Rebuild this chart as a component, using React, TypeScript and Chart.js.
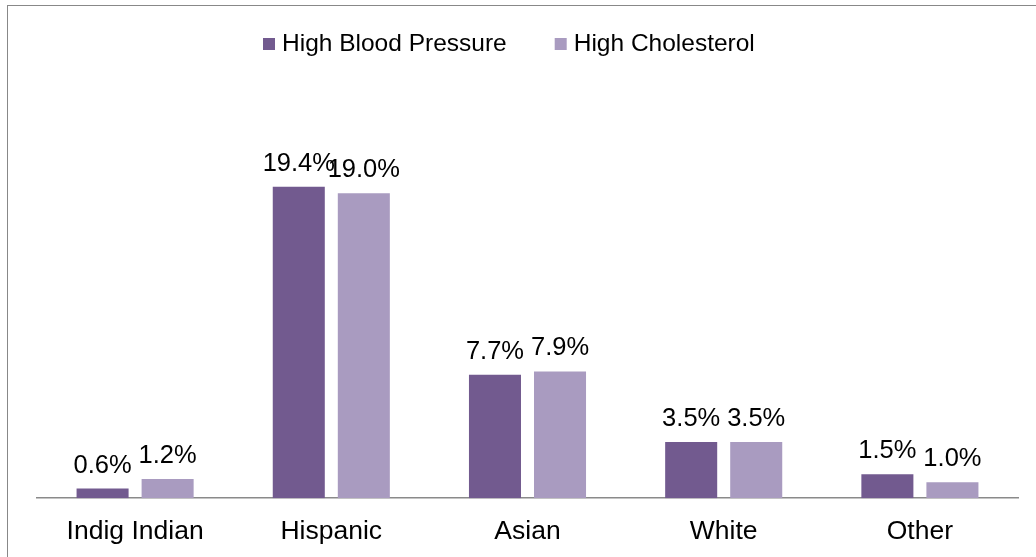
import React, { useEffect, useRef } from "react";
import { Chart, registerables } from "chart.js";

Chart.register(...registerables);

const categories = ["Indig Indian", "Hispanic", "Asian", "White", "Other"];
const seriesNames = ["High Blood Pressure", "High Cholesterol"];
const highBloodPressure = [0.6, 19.4, 7.7, 3.5, 1.5];
const highCholesterol = [1.2, 19.0, 7.9, 3.5, 1.0];
const seriesColors = ["#725A8F", "#A99BC0"];

const FONT = "'Liberation Sans', Arial, sans-serif";

const valueLabels = {
  id: "valueLabels",
  afterDatasetsDraw(chart: any) {
    const ctx = chart.ctx;
    ctx.save();
    ctx.font = `25.5px ${FONT}`;
    ctx.fillStyle = "#000";
    ctx.textAlign = "center";
    ctx.textBaseline = "alphabetic";
    chart.data.datasets.forEach((ds: any, di: number) => {
      const meta = chart.getDatasetMeta(di);
      meta.data.forEach((bar: any, i: number) => {
        const v = ds.data[i];
        ctx.fillText(`${v.toFixed(1)}%`, bar.x, bar.y - 16);
      });
    });
    ctx.restore();
  },
};

const customLegend = {
  id: "customLegend",
  afterDraw(chart: any) {
    const ctx = chart.ctx;
    ctx.save();
    ctx.font = `24.5px ${FONT}`;
    ctx.textBaseline = "alphabetic";
    ctx.textAlign = "left";
    let x = 263;
    const boxTop = 38;
    const box = 12;
    const baseline = 51;
    chart.data.datasets.forEach((ds: any) => {
      ctx.fillStyle = ds.backgroundColor;
      ctx.fillRect(x, boxTop, box, box);
      ctx.fillStyle = "#000";
      ctx.fillText(ds.label, x + box + 7, baseline);
      x += box + 7 + ctx.measureText(ds.label).width + 48;
    });
    ctx.restore();
  },
};

export default function App() {
  const ref = useRef<HTMLCanvasElement>(null);
  useEffect(() => {
    if (!ref.current) return;
    const chart = new Chart(ref.current, {
      type: "bar",
      data: {
        labels: categories,
        datasets: [
          { label: seriesNames[0], data: highBloodPressure, backgroundColor: seriesColors[0] },
          { label: seriesNames[1], data: highCholesterol, backgroundColor: seriesColors[1] },
        ],
      },
      options: {
        responsive: false,
        animation: false,
        devicePixelRatio: 1,
        layout: { padding: { left: 37, right: 18, top: 97, bottom: 12 } },
        datasets: { bar: { categoryPercentage: 0.663, barPercentage: 0.8 } },
        plugins: { legend: { display: false }, tooltip: { enabled: false } },
        scales: {
          x: {
            grid: { display: false },
            border: { display: true, color: "#8a8a8a", width: 1.5 },
            ticks: { color: "#000", font: { family: FONT, size: 26.5 }, padding: 10, maxRotation: 0 },
          },
          y: { display: false, min: 0, max: 25 },
        },
      },
      plugins: [valueLabels, customLegend],
    });
    return () => chart.destroy();
  }, []);
  return (
    <div style={{ position: "fixed", left: 0, top: 0, width: 1036, height: 557, background: "#fff", overflow: "hidden" }}>
      <div
        style={{
          position: "absolute",
          left: 7,
          top: 5,
          width: 1100,
          height: 700,
          borderLeft: "1.5px solid #888",
          borderTop: "1.5px solid #888",
        }}
      />
      <canvas ref={ref} width={1036} height={570} style={{ position: "absolute", left: 0, top: 0 }} />
    </div>
  );
}
